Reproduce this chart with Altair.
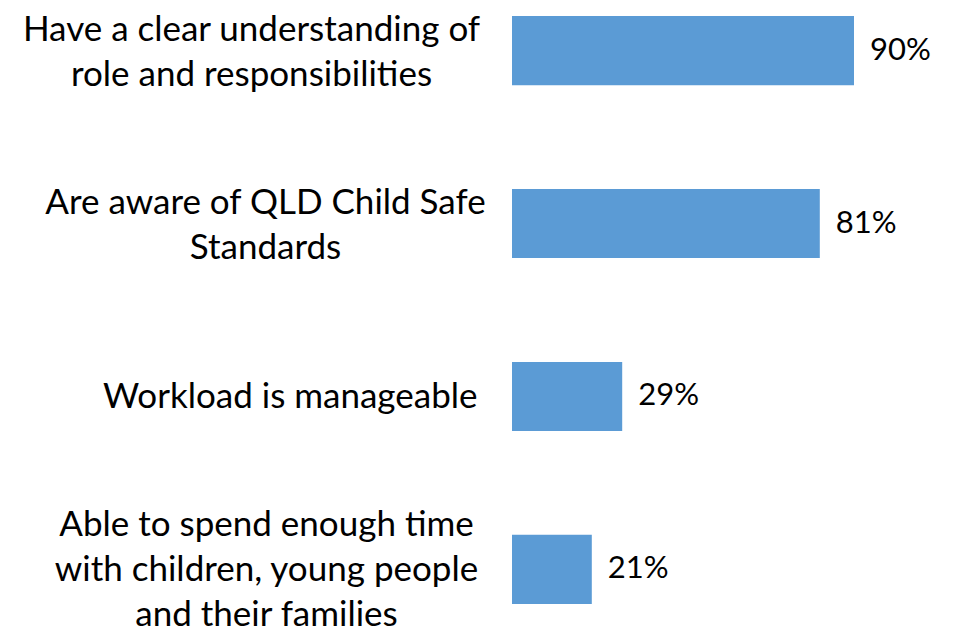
import altair as alt
import pandas as pd

categories = [
    "Have a clear understanding of|role and responsibilities",
    "Are aware of QLD Child Safe|Standards",
    "Workload is manageable",
    "Able to spend enough time|with children, young people|and their families",
]
values = [90, 81, 29, 21]

df = pd.DataFrame({"category": categories, "value": values})

FONT = "Lato"
BAR_COLOR = "#5B9BD5"
LINE_H = 45

n_lines = "length(split(datum.value, '|'))"

base = alt.Chart(df).encode(
    y=alt.Y(
        "category:N",
        sort=categories,
        scale=alt.Scale(paddingInner=0.6, paddingOuter=0),
        axis=alt.Axis(
            title=None,
            domain=False,
            ticks=False,
            labelExpr="split(datum.label, '|')",
            labelAlign={
                "condition": {"test": n_lines + " == 1", "value": "right"},
                "value": "center",
            },
            labelBaseline="middle",
            labelPadding={
                "condition": [
                    {"test": n_lines + " == 1", "value": 35},
                    {"test": "indexof(datum.value, 'QLD') >= 0", "value": 247},
                    {"test": n_lines + " == 3", "value": 246},
                ],
                "value": 261,
            },
            labelFont=FONT,
            labelFontSize=35,
            labelLineHeight=LINE_H,
            labelColor="#000000",
            labelLimit=0,
            labelOffset={
                "condition": [
                    {"test": n_lines + " == 3", "value": -LINE_H + 1},
                    {"test": n_lines + " == 2", "value": -LINE_H / 2 + 2},
                ],
                "value": 1,
            },
        ),
    ),
    x=alt.X(
        "value:Q",
        scale=alt.Scale(domain=[0, 100]),
        axis=None,
    ),
)

bars = base.mark_bar(color=BAR_COLOR)

labels = base.mark_text(
    align="left",
    baseline="middle",
    dx=16,
    font=FONT,
    fontSize=31,
    color="#000000",
).encode(text=alt.Text("label:N")).transform_calculate(label="datum.value + '%'")

chart = (
    alt.layer(bars, labels)
    .properties(
        width=380,
        height=588,
        autosize=alt.AutoSizeParams(type="none"),
        padding={"left": 504, "top": 8, "right": 53, "bottom": 26},
        background="#ffffff",
    )
    .configure_view(stroke=None)
)

chart.save("out.html", embed_options={"renderer": "svg", "actions": False})
